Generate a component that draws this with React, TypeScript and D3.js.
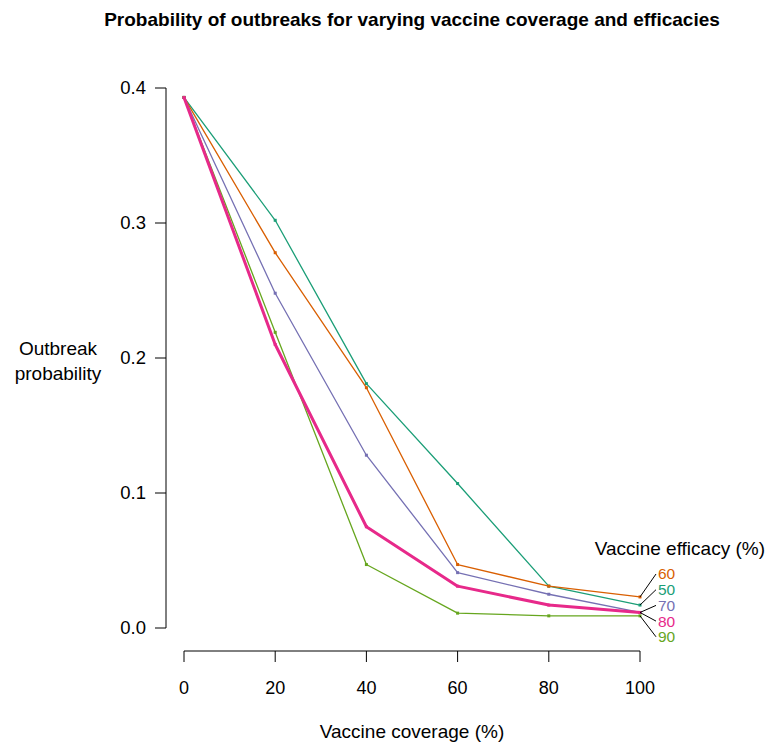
import React from "react";
import * as d3 from "d3";

const coverage = [0, 20, 40, 60, 80, 100];
const eff50 = [0.393, 0.302, 0.181, 0.107, 0.031, 0.017];
const eff60 = [0.393, 0.278, 0.178, 0.047, 0.031, 0.023];
const eff70 = [0.393, 0.248, 0.128, 0.041, 0.025, 0.0115];
const eff80 = [0.393, 0.21, 0.075, 0.031, 0.017, 0.0115];
const eff90 = [0.393, 0.219, 0.047, 0.011, 0.009, 0.009];
const yTicks = [0, 0.1, 0.2, 0.3, 0.4];
const xTicks = [0, 20, 40, 60, 80, 100];

const series = [
  { name: "50", values: eff50, color: "#1b9e77", width: 1.3 },
  { name: "60", values: eff60, color: "#d95f02", width: 1.3 },
  { name: "70", values: eff70, color: "#7570b3", width: 1.3 },
  { name: "90", values: eff90, color: "#66a61e", width: 1.3 },
  { name: "80", values: eff80, color: "#e7298a", width: 3 },
];
const labelOrder = ["60", "50", "70", "80", "90"];

export default function App() {
  const W = 766, H = 744;
  const x = d3.scaleLinear().domain([0, 100]).range([184, 640]);
  const y = d3.scaleLinear().domain([0, 0.4]).range([628, 88]);
  const line = d3.line<number>().x((_, i) => x(coverage[i])).y((d) => y(d));
  const font = "Liberation Sans, Arial, Helvetica, sans-serif";
  return (
    <svg width={W} height={H} style={{ position: "absolute", left: 0, top: 0, background: "#fff" }} fontFamily={font}>
      <text x={412} y={26} textAnchor="middle" fontSize={19} fontWeight="bold">
        Probability of outbreaks for varying vaccine coverage and efficacies
      </text>
      {/* y axis */}
      <line x1={166} x2={166} y1={y(0)} y2={y(0.4)} stroke="#000" strokeWidth={1} />
      {yTicks.map((t) => (
        <g key={t}>
          <line x1={155} x2={166} y1={y(t)} y2={y(t)} stroke="#000" />
          <text x={146} y={y(t)} dy="0.35em" textAnchor="end" fontSize={18.5}>
            {t.toFixed(1)}
          </text>
        </g>
      ))}
      <text x={58} y={355} textAnchor="middle" fontSize={19}>Outbreak</text>
      <text x={58} y={380} textAnchor="middle" fontSize={19}>probability</text>
      {/* x axis */}
      <line x1={x(0)} x2={x(100)} y1={651} y2={651} stroke="#000" />
      {xTicks.map((t) => (
        <g key={t}>
          <line x1={x(t)} x2={x(t)} y1={651} y2={662} stroke="#000" />
          <text x={x(t)} y={694} textAnchor="middle" fontSize={18}>{t}</text>
        </g>
      ))}
      <text x={412} y={738} textAnchor="middle" fontSize={19}>Vaccine coverage (%)</text>
      {/* lines */}
      {series.map((s) => (
        <g key={s.name}>
          <path d={line(s.values) || ""} fill="none" stroke={s.color} strokeWidth={s.width} strokeLinejoin="round" />
          {s.values.map((v, i) => (
            <rect key={i} x={x(coverage[i]) - 1.5} y={y(v) - 1.5} width={3} height={3} fill={s.color} />
          ))}
        </g>
      ))}
      {/* legend */}
      <text x={765} y={555} textAnchor="end" fontSize={19}>Vaccine efficacy (%)</text>
      {labelOrder.map((n, k) => {
        const s = series.find((d) => d.name === n)!;
        const ly = 574 + k * 15.7;
        return (
          <g key={n}>
            <line x1={x(100)} y1={y(s.values[5])} x2={656} y2={ly} stroke="#000" strokeWidth={1} />
            <text x={658} y={ly} dy="0.35em" fontSize={15.5} fill={s.color}>{n}</text>
          </g>
        );
      })}
    </svg>
  );
}
